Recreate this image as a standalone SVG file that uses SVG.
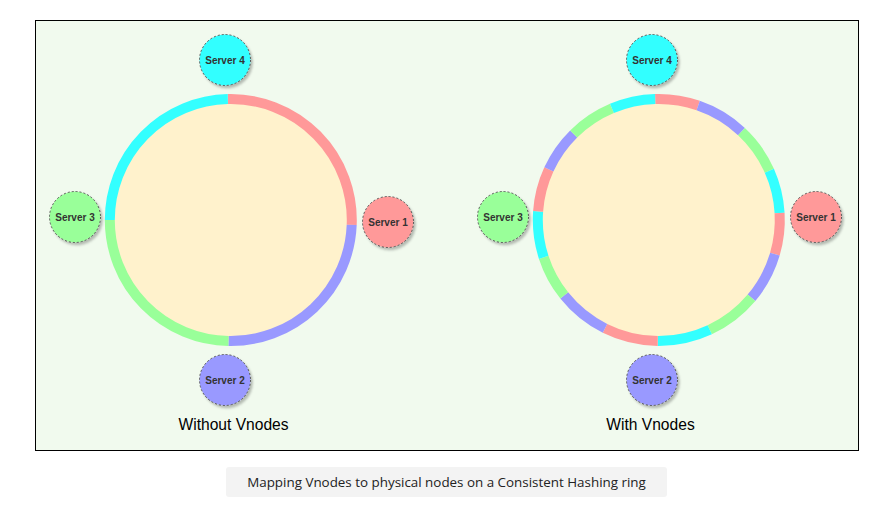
<svg xmlns="http://www.w3.org/2000/svg" width="884" height="507" viewBox="0 0 884 507">
  <defs>
    <filter id="sh" x="-30%" y="-30%" width="170%" height="170%">
      <feDropShadow dx="2" dy="2.5" stdDeviation="1.2" flood-color="#000" flood-opacity="0.25"/>
    </filter>
  </defs>
  <style>
    .seg { fill: none; stroke-width: 10; stroke-linecap: butt; }
    .r { stroke: #ff9999; }
    .p { stroke: #9999ff; }
    .g { stroke: #99ff99; }
    .c { stroke: #33ffff; }
    .hub { fill: #fff2cc; }
    .srv { stroke: #555; stroke-width: 1; stroke-dasharray: 2 2; filter: url(#sh); }
    .slbl { font-family: "Liberation Sans", Arial, sans-serif; font-size: 10px; font-weight: bold; fill: #333; text-anchor: middle; }
    .title { font-family: "Liberation Sans", Arial, sans-serif; font-size: 15.6px; fill: #000; text-anchor: middle; }
    .cap { font-family: "Open Sans", "Noto Sans", sans-serif; font-size: 13.4px; fill: #222; text-anchor: middle; }
  </style>

  <rect x="0" y="0" width="884" height="507" fill="#ffffff"/>
  <rect id="frame" x="35.5" y="20.5" width="823" height="430" fill="#f1faee" stroke="#000" stroke-width="1"/>

  <!-- Left ring: without vnodes -->
  <g id="ring-left">
    <circle class="hub" cx="230.8" cy="220" r="121"/>
    <path class="seg r" d="M227.85 99.04 A121 121 0 0 1 351.70 224.86"/>
    <path class="seg p" d="M351.70 224.86 A121 121 0 0 1 228.48 340.98"/>
    <path class="seg g" d="M228.48 340.98 A121 121 0 0 1 109.8 220"/>
    <path class="seg c" d="M109.8 220 A121 121 0 0 1 227.85 99.04"/>
  </g>

  <!-- Right ring: with vnodes -->
  <g id="ring-right">
    <circle class="hub" cx="658.8" cy="220" r="121"/>
    <path class="seg r" d="M655.21 99.05 A121 121 0 0 1 698.19 105.59"/>
    <path class="seg p" d="M698.19 105.59 A121 121 0 0 1 741.48 131.65"/>
    <path class="seg g" d="M741.48 131.65 A121 121 0 0 1 769.34 170.78"/>
    <path class="seg c" d="M769.34 170.78 A121 121 0 0 1 779.60 213.04"/>
    <path class="seg r" d="M779.60 213.04 A121 121 0 0 1 774.88 254.16"/>
    <path class="seg p" d="M774.88 254.16 A121 121 0 0 1 751.49 297.78"/>
    <path class="seg g" d="M751.49 297.78 A121 121 0 0 1 709.75 329.75"/>
    <path class="seg c" d="M709.75 329.75 A121 121 0 0 1 657.74 341.0"/>
    <path class="seg r" d="M657.74 341.0 A121 121 0 0 1 605.00 328.38"/>
    <path class="seg p" d="M605.00 328.38 A121 121 0 0 1 564.24 295.49"/>
    <path class="seg g" d="M564.24 295.49 A121 121 0 0 1 543.72 257.39"/>
    <path class="seg c" d="M543.72 257.39 A121 121 0 0 1 538.11 211.35"/>
    <path class="seg r" d="M538.11 211.35 A121 121 0 0 1 548.87 169.44"/>
    <path class="seg p" d="M548.87 169.44 A121 121 0 0 1 573.69 133.99"/>
    <path class="seg g" d="M573.69 133.99 A121 121 0 0 1 611.91 108.46"/>
    <path class="seg c" d="M611.91 108.46 A121 121 0 0 1 655.21 99.05"/>
  </g>

  <!-- Servers, left -->
  <g id="l-server4">
    <circle class="srv" cx="225" cy="60" r="25.5" fill="#33ffff"/>
    <text class="slbl" x="225" y="63.5">Server 4</text>
  </g>
  <g id="l-server1">
    <circle class="srv" cx="388" cy="222" r="25.5" fill="#ff9999"/>
    <text class="slbl" x="388" y="225.5">Server 1</text>
  </g>
  <g id="l-server2">
    <circle class="srv" cx="225" cy="380" r="25.5" fill="#9999ff"/>
    <text class="slbl" x="225" y="383.5">Server 2</text>
  </g>
  <g id="l-server3">
    <circle class="srv" cx="75" cy="217" r="25.5" fill="#99ff99"/>
    <text class="slbl" x="75" y="220.5">Server 3</text>
  </g>

  <!-- Servers, right -->
  <g id="r-server4">
    <circle class="srv" cx="652" cy="60" r="25.5" fill="#33ffff"/>
    <text class="slbl" x="652" y="63.5">Server 4</text>
  </g>
  <g id="r-server1">
    <circle class="srv" cx="816" cy="217" r="25.5" fill="#ff9999"/>
    <text class="slbl" x="816" y="220.5">Server 1</text>
  </g>
  <g id="r-server2">
    <circle class="srv" cx="652" cy="380" r="25.5" fill="#9999ff"/>
    <text class="slbl" x="652" y="383.5">Server 2</text>
  </g>
  <g id="r-server3">
    <circle class="srv" cx="503" cy="217" r="25.5" fill="#99ff99"/>
    <text class="slbl" x="503" y="220.5">Server 3</text>
  </g>

  <g id="labels">
    <text class="title" x="233.5" y="430">Without Vnodes</text>
    <text class="title" x="650.5" y="430">With Vnodes</text>
  </g>

  <g id="caption">
    <rect x="226" y="467" width="441" height="30" rx="3" fill="#f3f3f3"/>
    <text class="cap" x="446.5" y="487">Mapping Vnodes to physical nodes on a Consistent Hashing ring</text>
  </g>
</svg>
